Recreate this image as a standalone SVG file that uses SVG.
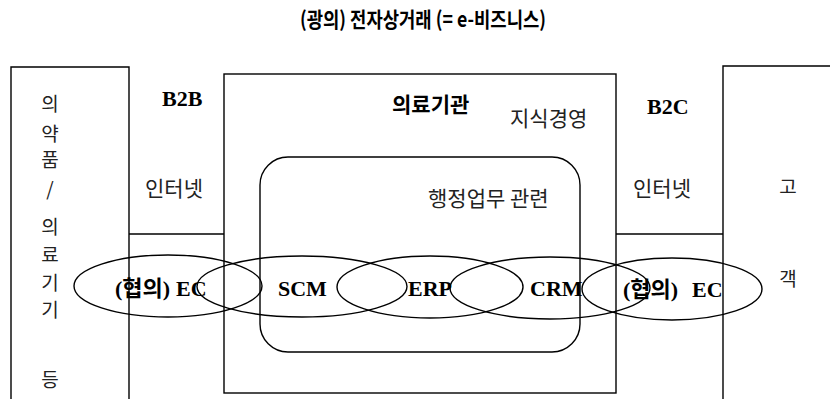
<svg xmlns="http://www.w3.org/2000/svg" width="830" height="399" viewBox="0 0 830 399">
<style>
.box{fill:none;stroke:#000;stroke-width:1.4}
.ell{fill:none;stroke:#000;stroke-width:1.4}
.ln{fill:none;stroke:#000;stroke-width:1.4}
.ko{font-family:"Noto Sans CJK KR","Noto Sans",sans-serif;font-size:21px;fill:#222}
.kb{font-family:"Noto Sans CJK KR","Noto Sans",sans-serif;font-size:21px;font-weight:bold;fill:#000}
.en{font-family:"Liberation Serif","Noto Sans CJK KR",serif;font-size:22px;font-weight:bold;fill:#000}
.vt{font-family:"Noto Sans CJK KR","Noto Sans",sans-serif;font-size:19px;fill:#222;text-anchor:middle}
.ttl{font-family:"Noto Sans CJK KR","Noto Sans",sans-serif;font-size:21px;font-weight:bold;fill:#000}
</style>
<rect width="830" height="399" fill="#fff"/>
<g id="title">
<text class="ttl" x="300" y="27" textLength="246" lengthAdjust="spacingAndGlyphs">(광의) 전자상거래 (= e-비즈니스)</text>
</g>
<g id="supplier">
<path class="box" d="M11,410 V67 H129 V410"/>
<text class="vt" x="50" y="111">의</text>
<text class="vt" x="50" y="141">약</text>
<text class="vt" x="50" y="167">품</text>
<text class="vt" x="50" y="196">/</text>
<text class="vt" x="50" y="234">의</text>
<text class="vt" x="50" y="262">료</text>
<text class="vt" x="50" y="290">기</text>
<text class="vt" x="50" y="317">기</text>
<text class="vt" x="50" y="387">등</text>
</g>
<g id="b2b">
<text class="en" x="162" y="106">B2B</text>
<text class="ko" x="145" y="196">인터넷</text>
</g>
<g id="hospital">
<rect class="box" x="224" y="74" width="392" height="319"/>
<text class="kb" x="392" y="112">의료기관</text>
<text class="ko" x="510" y="126">지식경영</text>
</g>
<g id="admin">
<rect class="box" x="260" y="157" width="320" height="195" rx="28" ry="28"/>
<text class="ko" x="428" y="206">행정업무 관련</text>
</g>
<g id="b2c">
<text class="en" x="647" y="114">B2C</text>
<text class="ko" x="633" y="196">인터넷</text>
</g>
<g id="customer">
<path class="box" d="M723,410 V66 H840"/>
<text class="vt" x="788" y="194">고</text>
<text class="vt" x="788" y="286">객</text>
</g>
<g id="connectors">
<path class="ln" d="M129,234 H224"/>
<path class="ln" d="M616,234 H723"/>
</g>
<g id="ec-left">
<ellipse class="ell" cx="168" cy="286" rx="94" ry="31"/>
<text class="en" x="115" y="296">(협의)</text>
<text class="en" x="176" y="296">EC</text>
</g>
<g id="scm">
<ellipse class="ell" cx="302" cy="286.5" rx="105" ry="30.5"/>
<text class="en" x="278" y="296">SCM</text>
</g>
<g id="erp">
<ellipse class="ell" cx="430" cy="287" rx="93" ry="31"/>
<text class="en" x="408" y="296">ERP</text>
</g>
<g id="crm">
<ellipse class="ell" cx="550" cy="288" rx="100" ry="31"/>
<text class="en" x="530" y="296">CRM</text>
</g>
<g id="ec-right">
<ellipse class="ell" cx="672" cy="289" rx="90" ry="31"/>
<text class="en" x="623" y="297">(협의)</text>
<text class="en" x="692" y="297">EC</text>
</g>
</svg>
